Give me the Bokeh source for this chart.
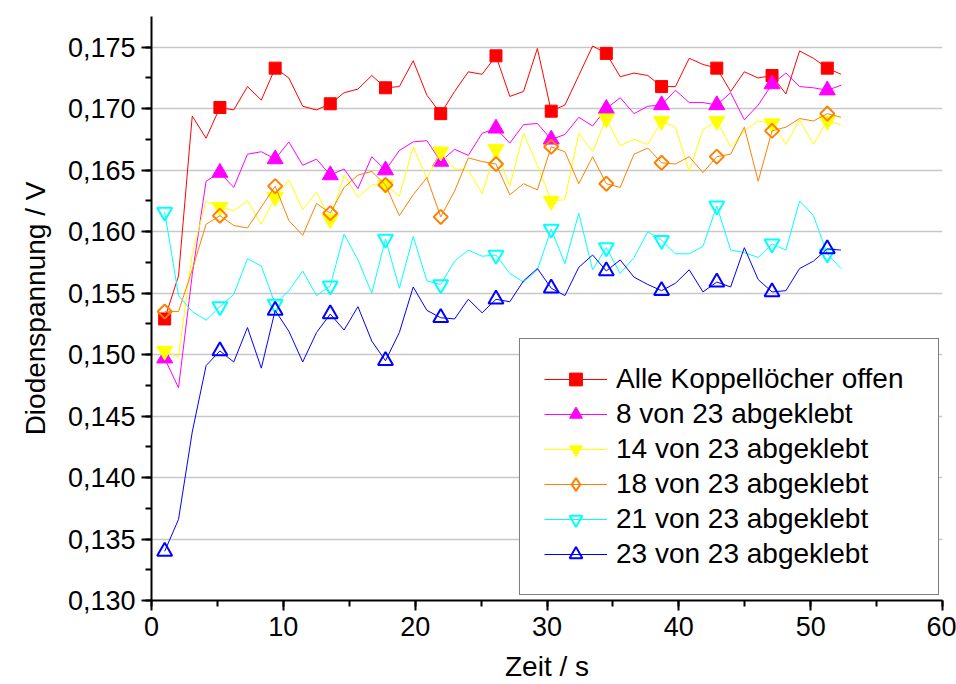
import math
from bokeh.plotting import figure
from bokeh.models import (Range1d, SingleIntervalTicker, CustomJSTickFormatter,
                          Legend, LegendItem)
from bokeh.embed import file_html
from bokeh.resources import INLINE

# time axis (s)
zeit = [1.00, 2.05, 3.09, 4.14, 5.19, 6.24, 7.28, 8.33, 9.38, 10.42,
        11.47, 12.52, 13.56, 14.61, 15.66, 16.71, 17.75, 18.80, 19.85, 20.89,
        21.94, 22.99, 24.03, 25.08, 26.13, 27.18, 28.22, 29.27, 30.32, 31.36,
        32.41, 33.46, 34.50, 35.55, 36.60, 37.65, 38.69, 39.74, 40.79, 41.83,
        42.88, 43.93, 44.97, 46.02, 47.07, 48.12, 49.16, 50.21, 51.26, 52.30]

alle_offen = [0.1529, 0.1564, 0.1694, 0.1676, 0.1701, 0.1699, 0.1718, 0.1707, 0.1733, 0.1725,
              0.1702, 0.1699, 0.1704, 0.1713, 0.1716, 0.1727, 0.1717, 0.1718, 0.1739, 0.1711,
              0.1696, 0.1714, 0.1730, 0.1728, 0.1743, 0.1710, 0.1714, 0.1749, 0.1698, 0.1703,
              0.1727, 0.1751, 0.1745, 0.1726, 0.1729, 0.1727, 0.1718, 0.1718, 0.1741, 0.1736,
              0.1733, 0.1714, 0.1730, 0.1725, 0.1727, 0.1712, 0.1747, 0.1741, 0.1733, 0.1728]

von8 = [0.1497, 0.1473, 0.1565, 0.1641, 0.1648, 0.1636, 0.1663, 0.1665, 0.1659, 0.1673,
        0.1654, 0.1659, 0.1646, 0.1651, 0.1635, 0.1661, 0.1650, 0.1666, 0.1673, 0.1674,
        0.1657, 0.1667, 0.1662, 0.1680, 0.1684, 0.1672, 0.1687, 0.1688, 0.1675, 0.1679,
        0.1693, 0.1686, 0.1700, 0.1709, 0.1696, 0.1702, 0.1703, 0.1715, 0.1705, 0.1705,
        0.1703, 0.1713, 0.1691, 0.1703, 0.1720, 0.1729, 0.1718, 0.1717, 0.1715, 0.1719]

von14 = [0.1503, 0.1498, 0.1582, 0.1625, 0.1620, 0.1617, 0.1625, 0.1606, 0.1628, 0.1642,
         0.1618, 0.1632, 0.1610, 0.1646, 0.1628, 0.1638, 0.1638, 0.1629, 0.1669, 0.1643,
         0.1665, 0.1651, 0.1650, 0.1631, 0.1667, 0.1637, 0.1680, 0.1654, 0.1625, 0.1626,
         0.1680, 0.1665, 0.1692, 0.1670, 0.1675, 0.1671, 0.1690, 0.1685, 0.1649, 0.1683,
         0.1690, 0.1669, 0.1682, 0.1690, 0.1688, 0.1671, 0.1691, 0.1671, 0.1690, 0.1687]

von18 = [0.1535, 0.1535, 0.1569, 0.1606, 0.1613, 0.1605, 0.1603, 0.1620, 0.1637, 0.1609,
         0.1597, 0.1623, 0.1615, 0.1636, 0.1646, 0.1649, 0.1638, 0.1613, 0.1630, 0.1644,
         0.1612, 0.1633, 0.1660, 0.1657, 0.1655, 0.1630, 0.1639, 0.1634, 0.1669, 0.1665,
         0.1639, 0.1661, 0.1639, 0.1636, 0.1663, 0.1668, 0.1656, 0.1655, 0.1661, 0.1648,
         0.1661, 0.1663, 0.1685, 0.1641, 0.1682, 0.1685, 0.1692, 0.1690, 0.1696, 0.1693]

von21 = [0.1616, 0.1548, 0.1535, 0.1528, 0.1539, 0.1549, 0.1578, 0.1572, 0.1541, 0.1552,
         0.1568, 0.1548, 0.1556, 0.1598, 0.1577, 0.1550, 0.1594, 0.1554, 0.1596, 0.1560,
         0.1557, 0.1576, 0.1585, 0.1580, 0.1581, 0.1566, 0.1559, 0.1569, 0.1602, 0.1574,
         0.1615, 0.1569, 0.1587, 0.1566, 0.1579, 0.1600, 0.1593, 0.1582, 0.1582, 0.1588,
         0.1621, 0.1585, 0.1583, 0.1579, 0.1590, 0.1585, 0.1625, 0.1613, 0.1582, 0.1570]

von23 = [0.1340, 0.1366, 0.1437, 0.1491, 0.1503, 0.1494, 0.1522, 0.1489, 0.1536, 0.1519,
         0.1494, 0.1518, 0.1533, 0.1520, 0.1539, 0.1511, 0.1495, 0.1518, 0.1555, 0.1536,
         0.1530, 0.1529, 0.1545, 0.1534, 0.1545, 0.1543, 0.1560, 0.1570, 0.1554, 0.1548,
         0.1571, 0.1581, 0.1568, 0.1577, 0.1563, 0.1557, 0.1552, 0.1558, 0.1569, 0.1551,
         0.1559, 0.1555, 0.1587, 0.1561, 0.1551, 0.1552, 0.1570, 0.1576, 0.1586, 0.1585]

labels = ["Alle Koppellöcher offen", "8 von 23 abgeklebt", "14 von 23 abgeklebt",
          "18 von 23 abgeklebt", "21 von 23 abgeklebt", "23 von 23 abgeklebt"]
series = [alle_offen, von8, von14, von18, von21, von23]

# styles: color, marker, filled, size, angle, legend marker
styles = [
    ("#FF0000", "square", True, 12, 0.0, "square"),
    ("#FF00FF", "triangle", True, 16, 0.0, "triangle"),
    ("#FFFF00", "inverted_triangle", True, 16, 0.0, "inverted_triangle"),
    ("#FF8000", "square", False, 10, math.pi / 4, "diamond"),
    ("#00FFFF", "inverted_triangle", False, 15, 0.0, "inverted_triangle"),
    ("#0000FF", "triangle", False, 15, 0.0, "triangle"),
]

FONT = "Liberation Sans"

p = figure(width=956, height=684, output_backend="svg", toolbar_location=None,
           x_range=Range1d(0, 60), y_range=Range1d(0.130, 0.1775),
           min_border_left=151, min_border_right=14, min_border_top=16,
           min_border_bottom=82, x_axis_label="Zeit / s",
           y_axis_label="Diodenspannung / V")
p.outline_line_color = None
p.background_fill_color = "white"
p.border_fill_color = "white"

p.xgrid.grid_line_color = None
p.ygrid.grid_line_color = "#c8c8c8"
p.ygrid.grid_line_width = 1.5

p.xaxis.ticker = SingleIntervalTicker(interval=10, num_minor_ticks=2)
p.yaxis.ticker = SingleIntervalTicker(interval=0.005, num_minor_ticks=2)
p.ygrid.ticker = p.yaxis.ticker
p.yaxis.formatter = CustomJSTickFormatter(code="return tick.toFixed(3).replace('.', ',');")

for ax in (p.xaxis, p.yaxis):
    ax.axis_line_width = 2
    ax.axis_line_color = "black"
    ax.major_tick_line_width = 2
    ax.minor_tick_line_width = 2
    ax.major_tick_line_color = "black"
    ax.minor_tick_line_color = "black"
    ax.major_tick_in = 0
    ax.major_tick_out = 10
    ax.minor_tick_in = 0
    ax.minor_tick_out = 6
    ax.major_label_text_font = FONT
    ax.major_label_text_font_size = "27px"
    ax.major_label_text_color = "black"
    ax.axis_label_text_font = FONT
    ax.axis_label_text_font_size = "28px"
    ax.axis_label_text_font_style = "normal"
    ax.axis_label_text_color = "black"
p.xaxis.major_label_standoff = 6
p.yaxis.major_label_standoff = 6
p.xaxis.axis_label_standoff = 12
p.yaxis.axis_label_standoff = 14

items = []
for lab, ys, (col, mk, filled, sz, ang, lmk) in zip(labels, series, styles):
    lr = p.line(zeit, ys, line_color=col, line_width=1)
    mr = p.scatter(zeit[::4], ys[::4], marker=mk, size=sz, angle=ang,
                   line_color=col, line_width=2 if not filled else 1,
                   fill_color=col if filled else None,
                   fill_alpha=1.0 if filled else 0.0)
    if lmk != mk:
        # legend-key glyph: zero-size diamond on the series' first point,
        # invisible in the plot; the legend draws it at its own key size
        pr = p.scatter(zeit[:1], ys[:1], marker=lmk, size=0, line_color=col,
                       line_width=2, fill_color=None, fill_alpha=0.0)
        items.append(LegendItem(label=lab, renderers=[lr, pr]))
    else:
        items.append(LegendItem(label=lab, renderers=[lr, mr]))

legend = Legend(items=items, location=(368, 5))
legend.label_text_font = FONT
legend.label_text_font_size = "28px"
legend.label_text_color = "black"
legend.glyph_width = 63
legend.glyph_height = 32
legend.label_standoff = 9
legend.label_width = 298
legend.padding = 24
legend.spacing = 3
legend.margin = 0
legend.border_line_color = "black"
legend.border_line_width = 1.5
legend.background_fill_color = "white"
legend.background_fill_alpha = 1.0
p.add_layout(legend)

open("out.html", "w").write(file_html(p, INLINE))
